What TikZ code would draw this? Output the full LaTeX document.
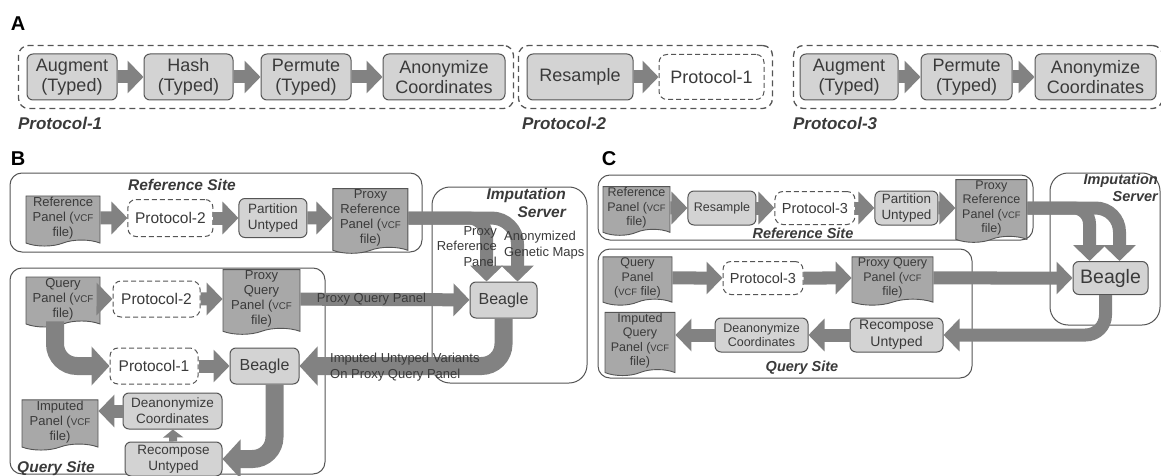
\documentclass[tikz,border=0pt]{standalone}
\usepackage{fontspec}
\setmainfont{Liberation Sans}
\usepackage{graphicx}
\usepackage{xcolor}
\usepackage{tikz}
\usetikzlibrary{positioning, arrows.meta, shapes.symbols, fit}

\newcommand{\vcf}{\scalebox{0.75}{VCF}}

\begin{document}
\begin{tikzpicture}[
    x=1pt, y=-1pt,
    every node/.append style={text=txtgray},
    stage/.style={rectangle, rounded corners=6pt, draw=linegray, fill=boxgray,
        line width=1pt, align=center, inner sep=1pt},
    proto/.style={rectangle, rounded corners=8pt, draw=linegray, fill=white,
        line width=1pt, dash pattern=on 5pt off 3pt, align=center, inner sep=1pt},
    doc/.style={tape, tape bend top=none, tape bend bottom=in and out,
        tape bend height=6pt, draw=linegray, fill=docgray, line width=0.9pt,
        align=center, inner sep=1pt},
    frame/.style={rectangle, rounded corners=10pt, draw=linegray,
        line width=1.3pt, dash pattern=on 6pt off 4pt, inner sep=8pt},
    site/.style={rectangle, rounded corners=12pt, draw=linegray, line width=1pt, inner sep=0pt},
    panel/.style={font=\fontsize{20}{22}\selectfont\bfseries, text=black},
    ptitle/.style={font=\fontsize{17}{19}\selectfont\bfseries\itshape, inner sep=0pt},
    stitle/.style={font=\fontsize{15.5}{18}\selectfont\bfseries\itshape, inner sep=0pt, align=right},
    lbl/.style={font=\fontsize{13}{15.5}\selectfont, inner sep=0pt},
    blk/.style={draw=arrowgray, line width=13pt, -{Triangle[length=16pt, width=32pt]}},
    blkw/.style={draw=arrowgray, line width=18pt, -{Triangle[length=18pt, width=38pt]}},
    blks/.style={draw=arrowgray, line width=8pt, -{Triangle[length=8pt, width=20pt]}},
    fA/.style={font=\fontsize{18}{20}\selectfont},
    fB/.style={font=\fontsize{13.5}{16}\selectfont},
    fD/.style={font=\fontsize{13}{15}\selectfont},
    fC/.style={font=\fontsize{12.5}{14.5}\selectfont},
    fPB/.style={font=\fontsize{15.5}{17}\selectfont},
    fPC/.style={font=\fontsize{14.5}{16}\selectfont},
]

% ── Colors ──
\definecolor{linegray}{HTML}{555555}
\definecolor{boxgray}{HTML}{D3D3D3}
\definecolor{docgray}{HTML}{A8A8A8}
\definecolor{arrowgray}{HTML}{828282}
\definecolor{txtgray}{HTML}{3A3A3A}

\useasboundingbox (0,0) rectangle (1161,476);

% ══════════════════════════════════════════════
% A: the three protocols
% ══════════════════════════════════════════════
\node[panel] (labA) at (18,24) {A};

\node[stage, fA, minimum width=90pt, minimum height=46pt] (augA) at (72,77) {Augment\\(Typed)};
\node[stage, fA, minimum width=89pt, minimum height=46pt, right=26pt of augA] (hashA) {Hash\\(Typed)};
\node[stage, fA, minimum width=90pt, minimum height=46pt, right=27pt of hashA] (permA) {Permute\\(Typed)};
\node[stage, fA, minimum width=122pt, minimum height=46pt, right=31pt of permA] (anonA) {Anonymize\\Coordinates};
\node[frame, fit=(augA)(anonA)] (prot1) {};
\node[ptitle, anchor=base west] (prot1lbl) at ([yshift=-20pt]prot1.south west) {Protocol-1};

\node[stage, fA, minimum width=106pt, minimum height=46pt] (resA) at (580,77) {Resample};
\node[proto, fA, minimum width=105pt, minimum height=45pt, right=25pt of resA] (p1A) {Protocol-1};
\node[frame, fit=(resA)(p1A)] (prot2) {};
\node[ptitle, anchor=base west] (prot2lbl) at ([xshift=4pt, yshift=-20pt]prot2.south west) {Protocol-2};

\node[stage, fA, minimum width=98pt, minimum height=46pt] (augA3) at (849,77) {Augment\\(Typed)};
\node[stage, fA, minimum width=91pt, minimum height=46pt, right=22pt of augA3] (permA3) {Permute\\(Typed)};
\node[stage, fA, minimum width=121pt, minimum height=46pt, right=22pt of permA3] (anonA3) {Anonymize\\Coordinates};
\node[frame, inner xsep=6pt, fit=(augA3)(anonA3)] (prot3) {};
\node[ptitle, anchor=base west] (prot3lbl) at ([yshift=-20pt]prot3.south west) {Protocol-3};

\draw[blk] (augA) -- (hashA);
\draw[blk] (hashA) -- (permA);
\draw[blk] (permA) -- (anonA);
\draw[blk] (resA) -- (p1A);
\draw[blk] (augA3) -- (permA3);
\draw[blk] (permA3) -- (anonA3);

% ══════════════════════════════════════════════
% B: reference site, query site, imputation server
% ══════════════════════════════════════════════
\node[panel] (labB) at (18,159) {B};

\node[site, fit={(10,173) (422,252)}] (refsiteB) {};
\node[site, fit={(10,268) (325,474)}] (qsiteB) {};
\node[site, rounded corners=18pt, fit={(432,187) (587,383)}] (serverB) {};
\node[stitle] (refsiteBlbl) at (182,185) {Reference Site};
\node[stitle] (qsiteBlbl) at (56,468) {Query Site};
\node[stitle, anchor=north east] (serverBlbl) at (566,188) {Imputation\\Server};

% reference row
\node[doc, fD, minimum width=74pt, minimum height=50pt] (refB) at (63,218) {Reference\\Panel (\vcf\\file)};
\node[proto, fPB, minimum width=85pt, minimum height=37pt, right=27pt of refB] (p2B) {Protocol-2};
\node[stage, fB, minimum width=68pt, minimum height=39pt, right=25pt of p2B] (partB) {Partition\\Untyped};
\node[doc, fD, minimum width=75pt, minimum height=54pt, right=25pt of partB] (prefB) {Proxy\\Reference\\Panel (\vcf\\file)};

% server
\node[stage, font=\fontsize{16}{18}\selectfont, minimum width=67pt, minimum height=36pt] (beagleS) at (503.5,300) {Beagle};

% query rows
\node[doc, fD, minimum width=74pt, minimum height=50pt] (qB) at (63,299) {Query\\Panel (\vcf\\file)};
\node[proto, fPB, minimum width=87pt, minimum height=36pt] (p2Bq) at (156.5,299) {Protocol-2};
\node[doc, fD, minimum width=77pt, minimum height=54pt] (pqB) at (261.5,299) {Proxy\\Query\\Panel (\vcf\\file)};
\node[proto, fPB, minimum width=88pt, minimum height=36pt] (p1Bq) at (154,366) {Protocol-1};
\node[stage, font=\fontsize{16}{18}\selectfont, minimum width=69pt, minimum height=36pt] (beagleQ) at (264.5,366) {Beagle};
\node[stage, fB, minimum width=99pt, minimum height=36pt] (deaB) at (172.5,411) {Deanonymize\\Coordinates};
\node[stage, fB, minimum width=97pt, minimum height=34pt] (recB) at (173.5,459) {Recompose\\Untyped};
\node[doc, fD, minimum width=76pt, minimum height=50pt] (impB) at (60,422) {Imputed\\Panel (\vcf\\file)};

% arrows
\draw[blk] (refB) -- (p2B);
\draw[blk] (p2B) -- (partB);
\draw[blk] (partB) -- (prefB);
\draw[blk, rounded corners=18pt] (prefB.east) -| ([xshift=-17pt]beagleS.north);
\draw[blk, rounded corners=26pt] (prefB.east) -| ([xshift=14pt]beagleS.north);
\draw[blk] (qB) -- (p2Bq);
\draw[blk] (p2Bq) -- (pqB);
\draw[blk] (pqB) -- node[lbl, pos=0.42] (pqBlbl) {Proxy Query Panel} (beagleS);
\draw[blkw, rounded corners=22pt] ([xshift=-8pt]qB.south) |- (p1Bq);
\draw[blk] (p1Bq) -- (beagleQ);
\draw[blkw, rounded corners=22pt] (beagleS) |- (beagleQ);
\draw[blkw, rounded corners=22pt] ([xshift=10pt]beagleQ.south) |- (recB);
\draw[blks] (recB) -- (deaB);
\draw[blk] (deaB.west) -- (impB.east |- deaB.west);

\node[lbl, align=right, anchor=north east] (proxyreflbl) at (497,226) {Proxy\\Reference\\Panel};
\node[lbl, align=left, anchor=north west] (mapslbl) at (504,231) {Anonymized\\Genetic Maps};
\node[lbl, align=left, anchor=west] (imputedlbl) at (330,367) {Imputed Untyped Variants\\On Proxy Query Panel};

% ══════════════════════════════════════════════
% C: protocol-3 workflow
% ══════════════════════════════════════════════
\node[panel] (labC) at (609,159) {C};

\node[site, fit={(598,175) (1033,240)}] (refsiteC) {};
\node[site, fit={(598,249) (972,378)}] (qsiteC) {};
\node[site, rounded corners=18pt, fit={(1050,173) (1160,325)}] (serverC) {};
\node[stitle, font=\fontsize{14.5}{17}\selectfont\bfseries\itshape] (refsiteClbl) at (803,233) {Reference Site};
\node[stitle, font=\fontsize{14.5}{17}\selectfont\bfseries\itshape] (qsiteClbl) at (802,368) {Query Site};
\node[stitle, font=\fontsize{14.5}{17}\selectfont\bfseries\itshape, anchor=north east] (serverClbl) at (1158,174) {Imputation\\Server};

\node[doc, fC, minimum width=67pt, minimum height=46pt] (refC) at (636.5,208) {Reference\\Panel (\vcf\\file)};
\node[stage, fC, minimum width=68pt, minimum height=34pt, right=17pt of refC] (resC) {Resample};
\node[proto, fPC, minimum width=80pt, minimum height=33pt, right=18pt of resC] (p3C) {Protocol-3};
\node[stage, font=\fontsize{13.4}{16}\selectfont, minimum width=63pt, minimum height=34pt, right=19pt of p3C] (partC) {Partition\\Untyped};
\node[doc, fC, minimum width=71pt, minimum height=58pt, right=17pt of partC] (prefC) {Proxy\\Reference\\Panel (\vcf\\file)};

\node[stage, font=\fontsize{19.5}{21}\selectfont, minimum width=75pt, minimum height=33pt] (beagleC) at (1110.5,278) {Beagle};

\node[doc, fC, minimum width=69pt, minimum height=45pt] (qC) at (637.5,278) {Query\\Panel\\(\vcf{} file)};
\node[proto, fPC, minimum width=80pt, minimum height=33pt] (p3Cq) at (763,278) {Protocol-3};
\node[doc, fC, minimum width=81pt, minimum height=48pt] (pqC) at (892.5,278) {Proxy Query\\Panel (\vcf\\file)};
\node[stage, font=\fontsize{14}{17}\selectfont, minimum width=93pt, minimum height=34pt] (recC) at (896.5,335) {Recompose\\Untyped};
\node[stage, font=\fontsize{12.5}{14}\selectfont, minimum width=93pt, minimum height=34pt] (deaC) at (761.5,335) {Deanonymize\\Coordinates};
\node[doc, fC, minimum width=70pt, minimum height=53pt] (impC) at (640,341) {Imputed\\Query\\Panel (\vcf\\file)};

\draw[blk] (refC) -- (resC);
\draw[blk] (resC) -- (p3C);
\draw[blk] (p3C) -- (partC);
\draw[blk] (partC) -- (prefC);
\draw[blk, rounded corners=16pt] (prefC.east) -| ([xshift=-21pt]beagleC.north);
\draw[blk, rounded corners=24pt] (prefC.east) -| ([xshift=9pt]beagleC.north);
\draw[blk] (qC) -- (p3Cq);
\draw[blk] (p3Cq) -- (pqC);
\draw[blk] (pqC) -- (beagleC);
\draw[blk, rounded corners=20pt] ([xshift=-5pt]beagleC.south) |- (recC);
\draw[blk] (recC) -- (deaC);
\draw[blk] (deaC.west) -- (impC.east |- deaC.west);

\end{tikzpicture}
\end{document}
